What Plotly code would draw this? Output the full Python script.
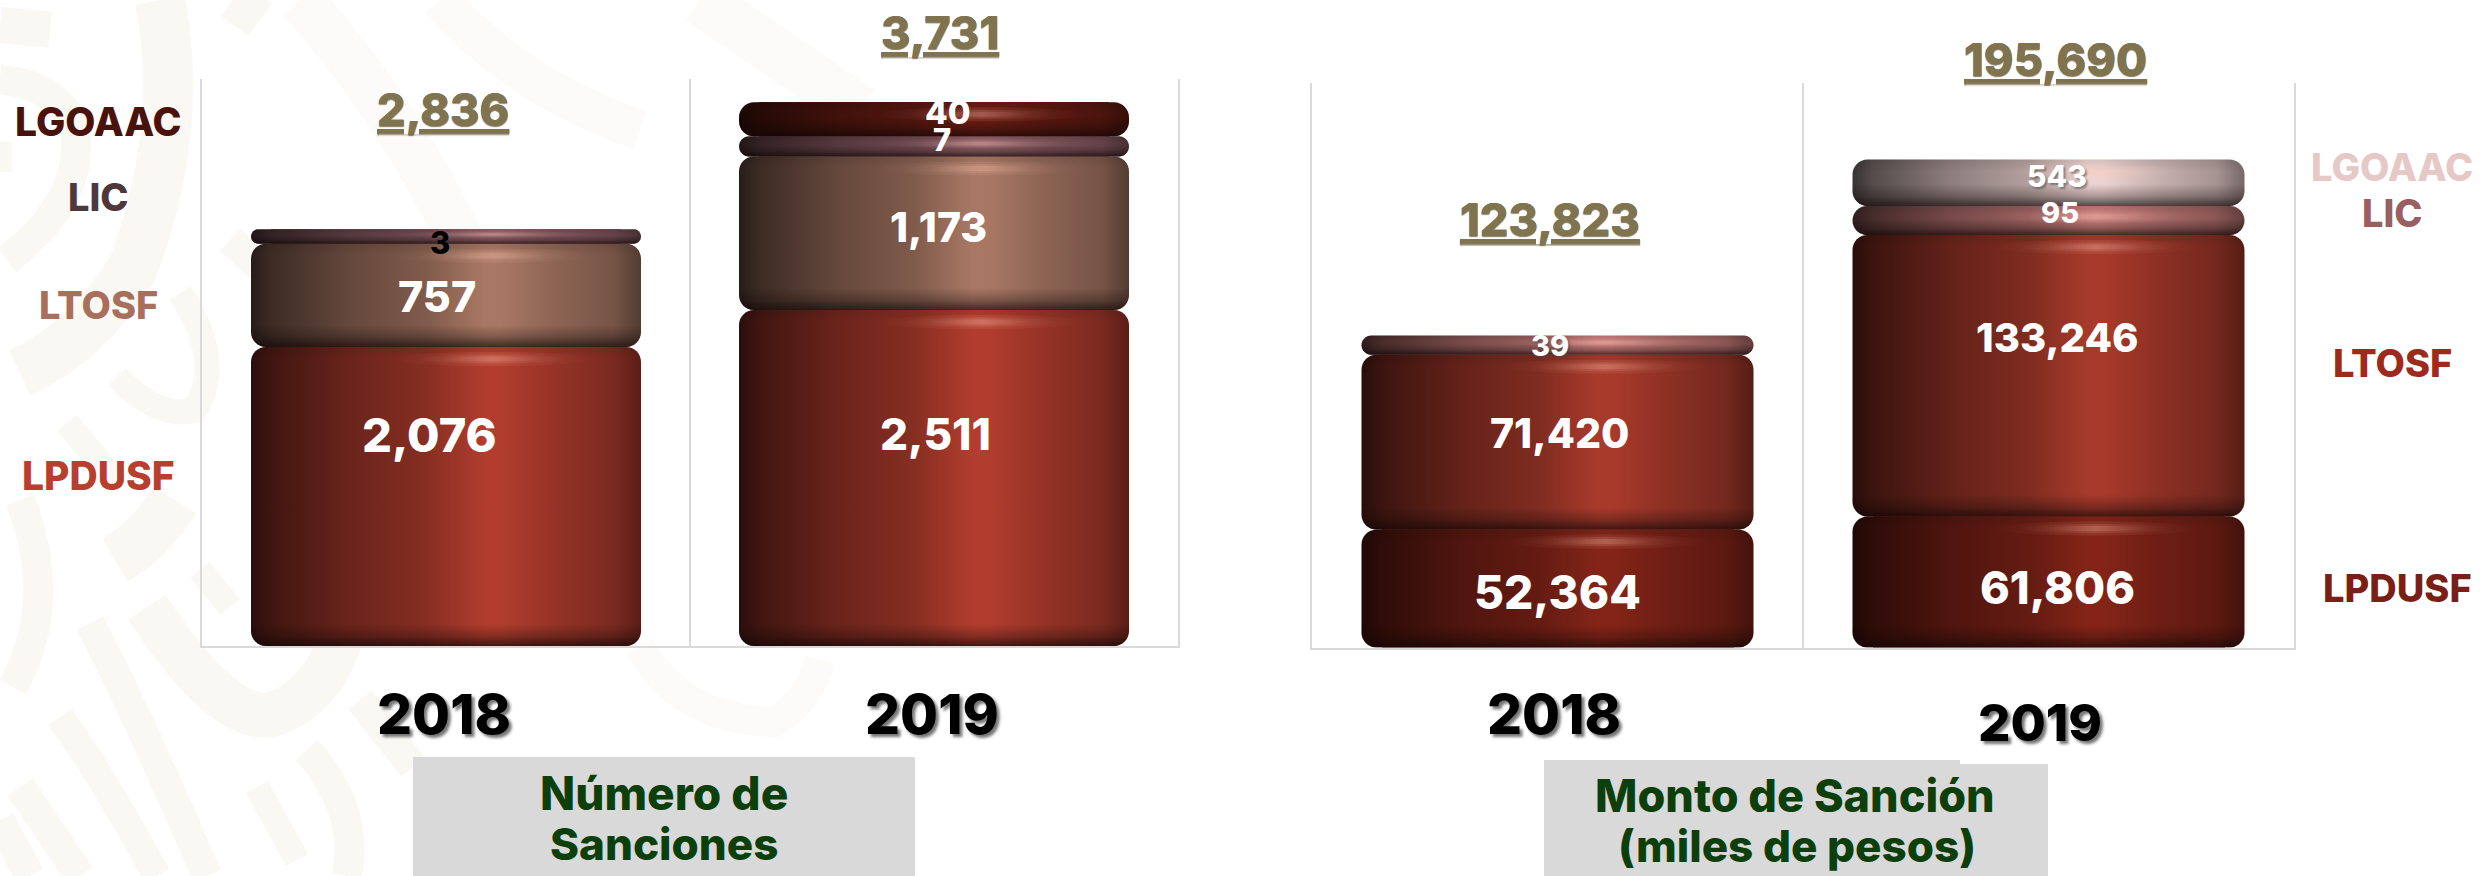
import numpy as np
import plotly.graph_objects as go

W, H = 2484, 876
YEARS = ["2018", "2019"]
SERIES = ["LPDUSF", "LTOSF", "LIC", "LGOAAC"]

# Printed values
SANCIONES_LPDUSF = [2076, 2511]
SANCIONES_LTOSF = [757, 1173]
SANCIONES_LIC = [3, 7]
SANCIONES_LGOAAC = [None, 40]
SANCIONES_TOTAL = ["2,836", "3,731"]

MONTO_LPDUSF = [52364, 61806]
MONTO_LTOSF = [71420, 133246]
MONTO_LIC = [39, 95]
MONTO_LGOAAC = [None, 543]
MONTO_TOTAL = ["123,823", "195,690"]

# The drawn tiers in the reference are not proportional to their printed labels
# (a tier labelled 3 is clearly visible), so the drawn sizes are read separately.
DRAWN_SANCIONES_LPDUSF = [2235, 2511]
DRAWN_SANCIONES_LTOSF = [772, 1148]
DRAWN_SANCIONES_LIC = [108, 150]
DRAWN_SANCIONES_LGOAAC = [0, 255]

DRAWN_MONTO_LPDUSF = [55800, 62000]
DRAWN_MONTO_LTOSF = [82800, 133246]
DRAWN_MONTO_LIC = [9000, 13700]
DRAWN_MONTO_LGOAAC = [0, 22000]

COL_SANC = ["#b23d2e", "#a97864", "#8f6068", "#6c1d13"]
COL_MONTO = ["#842418", "#a83a2b", "#c67c7a", "#ecd3d1"]


def px_x(x):
    return x / W


def px_y(y):
    return 1 - y / H


def rgb(c):
    return [int(c[i:i + 2], 16) for i in (1, 3, 5)]


def shade(c, f):
    r = rgb(c)
    return "rgb(%d,%d,%d)" % tuple(min(255, int(v * f)) for v in r)


def outline(xc, half, y0, y1, rx, ry):
    t = np.linspace(0, np.pi / 2, 9)
    xs, ys = [], []
    for cx, cy, a0, sx_, sy_ in [
        (xc + half - rx, y1 - ry, 0, 1, 1),
        (xc - half + rx, y1 - ry, 1, -1, 1),
        (xc - half + rx, y0 + ry, 0, -1, -1),
        (xc + half - rx, y0 + ry, 1, 1, -1),
    ]:
        tt = t if a0 == 0 else t[::-1]
        xs += list(cx + sx_ * rx * np.cos(tt))
        ys += list(cy + sy_ * ry * np.sin(tt))
    xs.append(xs[0])
    ys.append(ys[0])
    return xs, ys


def gradient_trace(xs, ys, kind, scale, xa, ya):
    return go.Scatter(
        x=xs, y=ys, mode="none", fill="toself", showlegend=False, hoverinfo="skip",
        fillgradient=dict(type=kind, colorscale=scale), xaxis=xa, yaxis=ya,
    )


def tier(fig, xc, base, h, color, xa, ya, half, sx, sy):
    hp = h * sy
    r = min(15, hp / 2)
    rx, ry = r / sx, r / sy
    xs, ys = outline(xc, half, base, base + h, rx, ry)
    stops = [(0, .24), (.05, .36), (.25, .60), (.45, .76), (.60, 1.0), (.64, 1.0),
             (.78, .84), (.93, .70), (1, .50)]
    fig.add_trace(gradient_trace(xs, ys, "horizontal",
                                 [[p, shade(color, f)] for p, f in stops], xa, ya))
    b = min(22 / hp, .55)
    t_ = min(12 / hp, .3)
    vert = [[0, "rgba(15,5,5,0.68)"], [b * .45, "rgba(15,5,5,0.28)"], [b, "rgba(15,5,5,0)"],
            [1 - t_, "rgba(15,5,5,0)"], [1, "rgba(15,5,5,0.10)"]]
    fig.add_trace(gradient_trace(xs, ys, "vertical", vert, xa, ya))
    # soft highlight near the top rim: three nested lenses
    a = np.linspace(0, 2 * np.pi, 49)
    cx = xc + .12 * 2 * half
    cy = base + h - min(12, hp * .36) / sy
    for wf, hf, alpha in [(.52, 7.0, .10), (.40, 4.5, .14), (.26, 2.5, .18)]:
        lw, lh = wf * half, min(hf, hp * hf * .03) / sy
        fig.add_trace(gradient_trace(
            list(cx + lw * np.cos(a)), list(cy + lh * np.sin(a)), "horizontal",
            [[0, "rgba(255,200,180,0)"], [.5, "rgba(255,200,180,%s)" % alpha], [1, "rgba(255,200,180,0)"]],
            xa, ya))


fig = go.Figure()
PANELS = [
    dict(xa="x", ya="y", x0=202, x1=1178, y0=79, y1=646, unit=0.1338, half=195,
         drawn=[DRAWN_SANCIONES_LPDUSF, DRAWN_SANCIONES_LTOSF, DRAWN_SANCIONES_LIC, DRAWN_SANCIONES_LGOAAC],
         vals=[SANCIONES_LPDUSF, SANCIONES_LTOSF, SANCIONES_LIC, SANCIONES_LGOAAC], cols=COL_SANC),
    dict(xa="x2", ya="y2", x0=1312, x1=2294, y0=83, y1=647.5, unit=0.002113, half=196,
         drawn=[DRAWN_MONTO_LPDUSF, DRAWN_MONTO_LTOSF, DRAWN_MONTO_LIC, DRAWN_MONTO_LGOAAC],
         vals=[MONTO_LPDUSF, MONTO_LTOSF, MONTO_LIC, MONTO_LGOAAC], cols=COL_MONTO),
]

for p in PANELS:
    sx = (p["x1"] - p["x0"]) / 2
    half = p["half"] / sx
    # real stacked bars (kept inside the rounded gradient bodies drawn on top)
    for name, d, v, c in zip(SERIES, p["drawn"], p["vals"], p["cols"]):
        fig.add_trace(go.Bar(
            x=[0, 1], y=d, name=name, width=2 * half - 40 / sx, marker=dict(color=c, line_width=0),
            hovertext=["%s %s: %s" % (name, y, "-" if t is None else format(t, ","))
                       for y, t in zip(YEARS, v)],
            hoverinfo="text", showlegend=False, xaxis=p["xa"], yaxis=p["ya"],
        ))
    for i in range(2):
        base = 0
        for d, c in zip(p["drawn"], p["cols"]):
            if d[i] > 0:
                tier(fig, i, base, d[i], c, p["xa"], p["ya"], half, sx, p["unit"])
                base += d[i]

# Free text: (text, x px, y px, size, colour, shadow)
SH = "2px 2px 2px rgba(70,70,70,0.55)"
YS = "3px 3px 3px rgba(60,60,60,0.7)"
TXT = [
    # left chart series names
    ("LGOAAC", 98, 121, 39, "#4a120c", None), ("LIC", 98, 197, 38, "#4f383c", None),
    ("LTOSF", 98, 305.5, 38, "#a8705c", None), ("LPDUSF", 98, 475, 39, "#b63f30", None),
    # left values
    (format(SANCIONES_LPDUSF[0], ","), 429, 434.5, 47, "white", None),
    (format(SANCIONES_LTOSF[0], ","), 436.5, 296, 43, "white", None),
    (format(SANCIONES_LIC[0]), 440, 242, 31, "black", None),
    (format(SANCIONES_LPDUSF[1], ","), 935, 434.5, 44, "white", None),
    (format(SANCIONES_LTOSF[1], ","), 938, 227, 41, "white", None),
    (format(SANCIONES_LIC[1]), 942, 139, 31, "white", None),
    (format(SANCIONES_LGOAAC[1]), 948, 112, 33, "white", None),
    # right values
    (format(MONTO_LPDUSF[0], ","), 1557, 592, 46, "white", None),
    (format(MONTO_LTOSF[0], ","), 1559.5, 433, 41, "white", None),
    (format(MONTO_LIC[0]), 1550, 346, 29, "white", SH),
    (format(MONTO_LPDUSF[1], ","), 2057, 587.7, 45, "white", None),
    (format(MONTO_LTOSF[1], ","), 2056.5, 337.4, 40, "white", None),
    (format(MONTO_LIC[1]), 2060, 213, 29, "white", None),
    (format(MONTO_LGOAAC[1]), 2057, 176, 30, "white", SH),
    # right chart series names
    ("LGOAAC", 2392, 167, 38, "#e6c9c7", None), ("LIC", 2392, 213, 38, "#9a5f60", None),
    ("LTOSF", 2392, 363, 38, "#9c2a1d", None), ("LPDUSF", 2397, 587.7, 38, "#7a1f17", None),
    # years
    (YEARS[0], 444, 714, 55, "black", YS), (YEARS[1], 931.5, 714, 55, "black", YS),
    (YEARS[0], 1554, 714, 55, "black", YS), (YEARS[1], 2040, 722, 51, "black", YS),
    # caption boxes
    ("Número de", 664, 793, 46, "#0c3f0c", None), ("Sanciones", 664, 844, 44, "#0c3f0c", None),
    ("Monto de Sanción", 1795, 795, 45, "#0c3f0c", None), ("(miles de pesos)", 1797, 846, 44, "#0c3f0c", None),
]
TOTALS = [(SANCIONES_TOTAL[0], 443, 109.5), (SANCIONES_TOTAL[1], 940, 32),
          (MONTO_TOTAL[0], 1550, 219.5), (MONTO_TOTAL[1], 2055.5, 59)]

ann = []
for t, x, y, s, c, sh in TXT:
    f = dict(family="Inter, 'Open Sans', sans-serif", size=s, color=c, weight=800)
    if sh:
        f["shadow"] = sh
    ann.append(dict(text=t, x=px_x(x), y=px_y(y), xref="paper", yref="paper", showarrow=False,
                    xanchor="center", yanchor="middle", font=f, align="center"))
for t, x, y in TOTALS:
    ann.append(dict(text=t, x=px_x(x), y=px_y(y), xref="paper", yref="paper", showarrow=False,
                    xanchor="center", yanchor="middle",
                    font=dict(family="Inter, 'Open Sans', sans-serif", size=45, color="#7f7350", weight=800,
                              lineposition="under", shadow="0px 1px 1px rgba(120,110,80,0.6)")))

# Faint background pattern, then the caption boxes
C1, C2 = "#faf8f3", "#fdfbf9"
PATTERN = [
    ("M20,500 Q60,600 13,687", 30, C1), ("M175,500 Q150,540 115,560", 50, C1),
    ("M90,623 Q140,720 207,876", 30, C1), ("M60,717 Q105,780 157,876", 28, C1),
    ("M20,787 L80,876", 30, C1), ("M147,607 Q220,720 270,715 Q320,700 340,640", 45, C1),
    ("M200,570 L230,607", 25, C1), ("M257,787 L297,860", 25, C1),
    ("M307,750 Q360,810 347,876", 30, C1), ("M360,700 L413,767", 30, C1),
    ("M0,25 L50,30", 36, C1), ("M160,0 Q185,130 133,267 Q90,340 20,373", 50, C1),
    ("M0,80 Q60,85 75,130 Q85,200 7,260", 30, C1), ("M0,157 L12,157", 30, C1),
    ("M180,293 Q225,360 195,410 Q160,420 117,377", 25, C1), ("M230,240 L260,267", 30, C1),
    ("M67,423 L117,483", 25, C1), ("M233,0 L260,20", 40, C1),
    ("M640,647 Q680,720 775,722 Q810,700 820,660", 30, C2),
    ("M300,0 Q400,110 470,260", 46, C2), ("M440,0 Q520,90 640,130", 40, C2),
    ("M700,0 L860,110", 50, C2), ("M0,820 L30,876", 30, C1),
]
shapes = []
for d, lw, col in PATTERN:
    toks = d.replace("M", "M ").replace("Q", "Q ").replace("L", "L ").replace(",", " ").split()
    out, k = [], 0
    for tok in toks:
        if tok in "MQL":
            out.append(tok)
        else:
            out.append(str(float(tok) / W if k % 2 == 0 else 1 - float(tok) / H))
            k += 1
    shapes.append(dict(type="path", path=" ".join(out), xref="paper", yref="paper", layer="below",
                       line=dict(color=col, width=lw), fillcolor="rgba(0,0,0,0)"))
for x0, x1, y0 in [(413, 915, 757), (1544, 1960, 760), (1960, 2048, 764)]:
    shapes.append(dict(type="rect", x0=px_x(x0), x1=px_x(x1), y0=0, y1=px_y(y0), xref="paper", yref="paper",
                       layer="below", fillcolor="#d9d9d9", line_width=0))

layout = dict(
    width=W, height=H, autosize=False, margin=dict(l=0, r=0, t=0, b=0),
    paper_bgcolor="white", plot_bgcolor="rgba(0,0,0,0)", barmode="stack", bargap=0,
    annotations=ann, shapes=shapes, showlegend=False,
)
for i, p in enumerate(PANELS):
    sfx = "" if i == 0 else "2"
    layout["xaxis" + sfx] = dict(
        domain=[px_x(p["x0"]), px_x(p["x1"])], range=[-.5, 1.5], tickmode="array", tickvals=[.5],
        showticklabels=False, ticks="", showgrid=True, gridcolor="#d9d9d9", gridwidth=2, zeroline=False,
        showline=True, linecolor="#d9d9d9", linewidth=2, anchor="y" + sfx, fixedrange=True,
    )
    layout["yaxis" + sfx] = dict(
        domain=[px_y(p["y1"]), px_y(p["y0"])], range=[0, (p["y1"] - p["y0"]) / p["unit"]],
        showticklabels=False, ticks="", showgrid=False, zeroline=False,
        showline=True, mirror=True, linecolor="#d9d9d9", linewidth=2,
        anchor="x" + sfx, fixedrange=True,
    )
fig.update_layout(**layout)
fig.write_html("out.html", config=dict(displayModeBar=False),
               post_script="document.body.style.margin='0';document.body.style.overflow='hidden';")
